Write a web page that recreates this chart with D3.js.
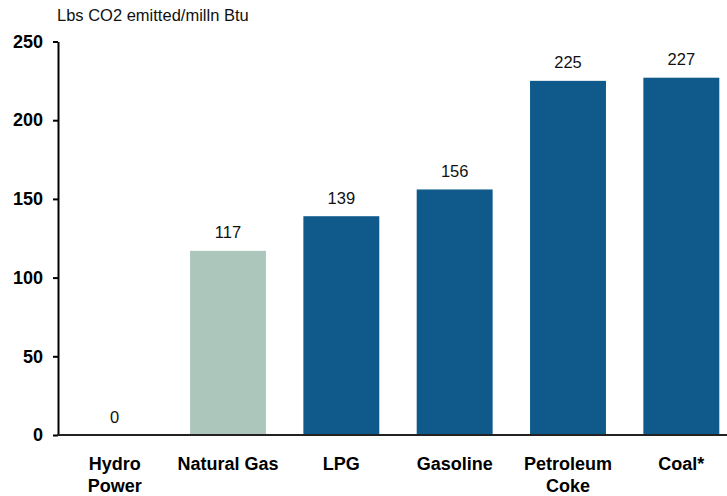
<!DOCTYPE html>
<html>
<head>
<meta charset="utf-8">
<script src="https://cdn.jsdelivr.net/npm/d3@7"></script>
<style>
  body { margin: 0; background: #fff; }
  svg { display: block; font-family: Arial, "Liberation Sans", sans-serif; }
</style>
</head>
<body>
<svg id="chart" width="727" height="496"></svg>
<script>
// donnees
const categories = ["Hydro\nPower", "Natural Gas", "LPG", "Gasoline", "Petroleum\nCoke", "Coal*"];
const values = [0, 117, 139, 156, 225, 227];
const barColors = ["#0f5a8a", "#adc6bc", "#0f5a8a", "#0f5a8a", "#0f5a8a", "#0f5a8a"];
const yTicks = [0, 50, 100, 150, 200, 250];
const yTitle = "Lbs CO2 emitted/milln Btu";

const svg = d3.select("#chart");
const axisX = 58, y0 = 435, yTop = 41.5;

const x = d3.scaleBand()
  .domain(categories)
  .range([axisX, axisX + 680])
  .paddingInner(0.33)
  .paddingOuter(0.165);

const y = d3.scaleLinear().domain([0, 250]).range([y0, yTop]);

// barres
svg.append("g").selectAll("rect")
  .data(categories)
  .join("rect")
  .attr("x", d => x(d))
  .attr("width", x.bandwidth())
  .attr("y", (d, i) => y(values[i]))
  .attr("height", (d, i) => y(0) - y(values[i]))
  .attr("fill", (d, i) => barColors[i]);

// etiquettes de valeur
svg.append("g").selectAll("text")
  .data(categories)
  .join("text")
  .attr("x", d => x(d) + x.bandwidth() / 2)
  .attr("y", (d, i) => y(values[i]) - 12.5)
  .attr("text-anchor", "middle")
  .attr("font-size", "16.5px")
  .attr("fill", "#111")
  .text((d, i) => values[i]);

// axe Y
const yAxis = svg.append("g")
  .attr("transform", `translate(${axisX},0)`)
  .call(d3.axisLeft(y).tickValues(yTicks).tickSize(5).tickPadding(10).tickSizeOuter(0));
yAxis.select(".domain").attr("stroke", "#000").attr("stroke-width", 2);
yAxis.selectAll(".tick line").attr("stroke", "#000").attr("stroke-width", 2);
yAxis.selectAll(".tick text")
  .attr("font-size", "18px")
  .attr("font-weight", "bold")
  .attr("font-family", "Arial, 'Liberation Sans', sans-serif")
  .attr("fill", "#000");

// ligne de base
svg.append("line")
  .attr("x1", axisX - 1).attr("x2", 727)
  .attr("y1", y0).attr("y2", y0)
  .attr("stroke", "#222").attr("stroke-width", 2);

// etiquettes de categorie
const cat = svg.append("g").selectAll("text")
  .data(categories)
  .join("text")
  .attr("text-anchor", "middle")
  .attr("font-size", "18px")
  .attr("font-weight", "bold")
  .attr("fill", "#000");
cat.each(function(d) {
  const cx = x(d) + x.bandwidth() / 2;
  d.split("\n").forEach((line, k) => {
    d3.select(this).append("tspan")
      .attr("x", cx)
      .attr("y", 470 + k * 22)
      .text(line);
  });
});

// titre de l'axe
svg.append("text")
  .attr("x", 57)
  .attr("y", 21)
  .attr("font-size", "16.5px")
  .attr("fill", "#111")
  .text(yTitle);
</script>
</body>
</html>
